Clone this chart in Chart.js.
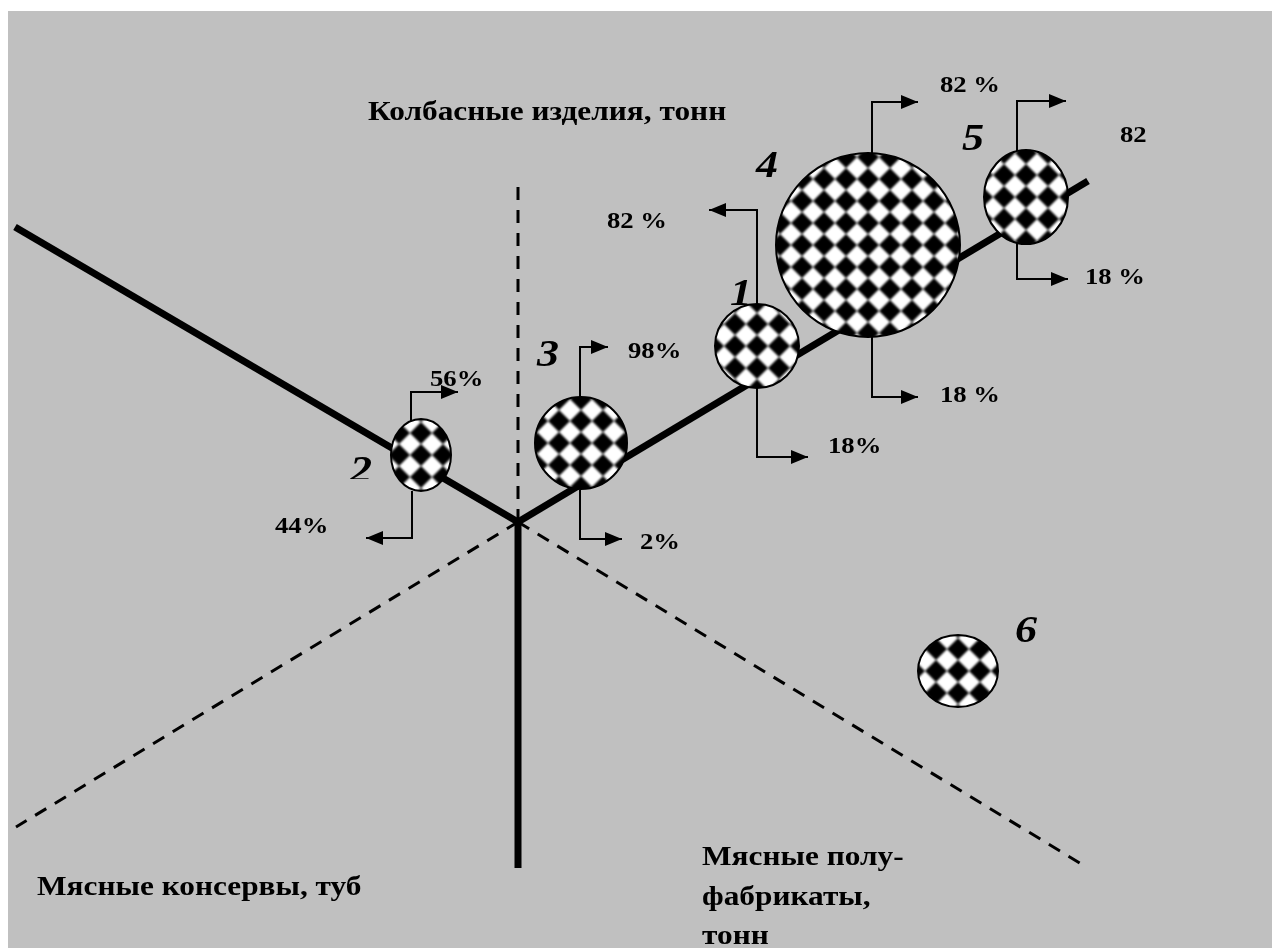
<!DOCTYPE html>
<html><head><meta charset="utf-8">
<script src="https://cdn.jsdelivr.net/npm/chart.js@4.4.1/dist/chart.umd.min.js"></script>
<style>html,body{margin:0;padding:0;background:#fff;}canvas{display:block;}</style>
</head><body>
<canvas id="c" width="1272" height="948"></canvas>
<script>
// ---- data (diagram space, 1 unit = 1 px of the reference) ----
const frame = [8, 11, 1272, 948];
const hub = [518, 522];
const solidAxisEnds = [[15, 227], [1088, 181], [518, 868]];
const dashedAxisEnds = [[518, 180], [16, 827], [1088, 868]];

const bubbleIds = ['1', '2', '3', '4', '5', '6'];
const bubbleX = [757, 421, 581, 868, 1026, 958];
const bubbleY = [346, 455, 443, 245, 197, 671];
const bubbleRx = [42, 30, 46, 92, 42, 40];
const bubbleRy = [42, 36, 46, 92, 47, 36];
const idX = [741, 361, 548, 767, 973, 1026];
const idY = [295, 472, 356, 167, 140, 632];

const shareText = ['56%', '44%', '98%', '2%', '82 %', '18%', '82 %', '18 %', '82', '18 %'];
const shareX = [430, 275, 628, 640, 607, 828, 940, 940, 1120, 1085];
const shareY = [380, 527, 352, 543, 222, 447, 86, 396, 136, 278];
const connectorPaths = [
  [[411, 421], [411, 392], [458, 392]],
  [[412, 491], [412, 538], [366, 538]],
  [[580, 397], [580, 347], [608, 347]],
  [[580, 490], [580, 539], [622, 539]],
  [[757, 305], [757, 210], [709, 210]],
  [[757, 388], [757, 457], [808, 457]],
  [[872, 154], [872, 102], [918, 102]],
  [[872, 337], [872, 397], [918, 397]],
  [[1017, 151], [1017, 101], [1066, 101]],
  [[1017, 243], [1017, 279], [1068, 279]]
];

const axisText = ['Колбасные изделия, тонн', 'Мясные консервы, туб', 'Мясные полу-', 'фабрикаты,', 'тонн'];
const axisTextX = [368, 37, 702, 702, 702];
const axisTextY = [113, 888, 858, 898, 937];

// ---- pattern ----
const PERIOD = 22;
function makeTile() {
  const n = 3, big = document.createElement('canvas');
  big.width = big.height = PERIOD * n;
  const b = big.getContext('2d');
  b.fillStyle = '#fff'; b.fillRect(0, 0, big.width, big.height);
  b.filter = 'blur(0.9px)';
  b.fillStyle = '#000';
  b.beginPath();
  const h = 11;
  for (let i = -1; i <= n; i++) for (let j = -1; j <= n; j++) {
    const cx = (i + 0.5) * PERIOD, cy = (j + 0.5) * PERIOD;
    b.moveTo(cx, cy - h); b.lineTo(cx + h, cy); b.lineTo(cx, cy + h); b.lineTo(cx - h, cy); b.closePath();
  }
  b.fill();
  const t = document.createElement('canvas');
  t.width = t.height = PERIOD;
  t.getContext('2d').drawImage(big, PERIOD, PERIOD, PERIOD, PERIOD, 0, 0, PERIOD, PERIOD);
  return t;
}
const tile = makeTile();
function bubbleImage(rx, ry) {
  const c = document.createElement('canvas');
  c.width = 2 * rx + 4; c.height = 2 * ry + 4;
  const g = c.getContext('2d');
  const pat = g.createPattern(tile, 'repeat');
  pat.setTransform(new DOMMatrix().translate(c.width / 2 - PERIOD / 2, c.height / 2 - PERIOD / 2));
  g.beginPath(); g.ellipse(c.width / 2, c.height / 2, rx, ry, 0, 0, Math.PI * 2);
  g.fillStyle = pat; g.fill();
  g.lineWidth = 2; g.strokeStyle = '#000'; g.stroke();
  return c;
}

// ---- datasets ----
const pt = p => ({x: p[0], y: p[1]});
const datasets = [];
datasets.push({
  type: 'bubble', label: 'bubbles',
  data: bubbleX.map((x, i) => ({x, y: bubbleY[i], r: Math.max(bubbleRx[i], bubbleRy[i])})),
  pointStyle: bubbleX.map((x, i) => bubbleImage(bubbleRx[i], bubbleRy[i])),
  backgroundColor: '#fff', borderColor: '#000', borderWidth: 0,
  clip: false
});
connectorPaths.forEach((p, k) => datasets.push({
  type: 'scatter', label: 'share ' + shareText[k], arrow: true, showLine: true,
  data: p.map(pt), borderColor: '#000', borderWidth: 2, pointRadius: 0, fill: false, tension: 0
}));
solidAxisEnds.forEach(e => datasets.push({
  type: 'scatter', label: 'axis', showLine: true, data: [pt(hub), pt(e)],
  borderColor: '#000', borderWidth: 7, pointRadius: 0, borderCapStyle: 'butt', clip: false
}));
dashedAxisEnds.forEach(e => datasets.push({
  type: 'scatter', label: 'guide', showLine: true, data: [pt(hub), pt(e)],
  borderColor: '#000', borderWidth: 3, borderDash: [13, 10], pointRadius: 0, clip: false
}));

// ---- plugins ----
const backdrop = {
  id: 'backdrop',
  beforeDraw(chart) {
    const {ctx, scales: {x, y}} = chart;
    ctx.save();
    ctx.fillStyle = '#fff'; ctx.fillRect(0, 0, chart.width, chart.height);
    const x0 = x.getPixelForValue(frame[0]), y0 = y.getPixelForValue(frame[1]);
    const x1 = x.getPixelForValue(frame[2]), y1 = y.getPixelForValue(frame[3]);
    ctx.fillStyle = '#c0c0c0'; ctx.fillRect(x0, y0, x1 - x0, y1 - y0);
    ctx.restore();
  }
};
const arrowHeads = {
  id: 'arrowHeads',
  afterDatasetsDraw(chart) {
    const ctx = chart.ctx;
    chart.data.datasets.forEach((ds, i) => {
      if (!ds.arrow) return;
      const pts = chart.getDatasetMeta(i).data;
      const a = pts[pts.length - 2], b = pts[pts.length - 1];
      const ang = Math.atan2(b.y - a.y, b.x - a.x);
      const L = 17, W = 7;
      ctx.save();
      ctx.translate(b.x, b.y); ctx.rotate(ang);
      ctx.beginPath(); ctx.moveTo(0, 0); ctx.lineTo(-L, -W); ctx.lineTo(-L, W); ctx.closePath();
      ctx.fillStyle = '#000'; ctx.fill();
      ctx.restore();
    });
  }
};
const SX = 1.16;
function txt(ctx, s, px, py, font, align) {
  ctx.save();
  ctx.font = font; ctx.textBaseline = 'middle'; ctx.textAlign = align; ctx.fillStyle = '#000';
  ctx.translate(px, py); ctx.scale(SX, 1);
  ctx.fillText(s, 0, 0);
  ctx.restore();
}
const labels = {
  id: 'labels',
  afterDraw(chart) {
    const {ctx, scales: {x, y}} = chart;
    axisText.forEach((s, i) => txt(ctx, s, x.getPixelForValue(axisTextX[i]), y.getPixelForValue(axisTextY[i]), 'bold 27px "Liberation Serif"', 'left'));
    shareText.forEach((s, i) => txt(ctx, s, x.getPixelForValue(shareX[i]), y.getPixelForValue(shareY[i]), 'bold 23px "Liberation Serif"', 'left'));
    bubbleIds.forEach((s, i) => {
      ctx.save();
      if (s === '2') { ctx.beginPath(); ctx.rect(0, 0, chart.width, y.getPixelForValue(479)); ctx.clip(); }
      txt(ctx, s, x.getPixelForValue(idX[i]), y.getPixelForValue(idY[i]), 'italic bold 38px "Liberation Serif"', 'center');
      ctx.restore();
    });
  }
};

new Chart(document.getElementById('c'), {
  type: 'scatter',
  data: {datasets},
  options: {
    responsive: false, animation: false, devicePixelRatio: 1,
    layout: {padding: 0, autoPadding: false},
    scales: {
      x: {type: 'linear', min: 0, max: 1272, display: false},
      y: {type: 'linear', min: 0, max: 948, reverse: true, display: false}
    },
    plugins: {legend: {display: false}, tooltip: {enabled: false}, title: {display: false}}
  },
  plugins: [backdrop, arrowHeads, labels]
});
</script></body></html>
